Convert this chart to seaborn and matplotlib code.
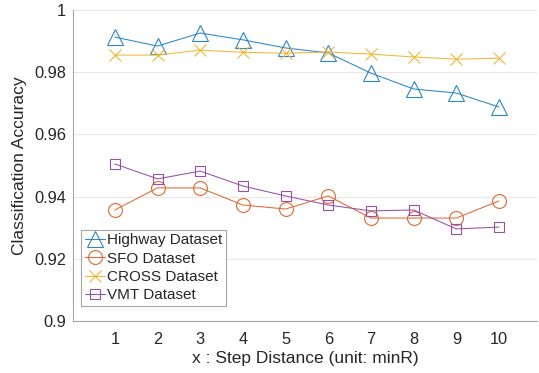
import matplotlib
matplotlib.use("Agg")
import matplotlib.pyplot as plt
import seaborn as sns
import pandas as pd

steps = [1, 2, 3, 4, 5, 6, 7, 8, 9, 10]
highway = [0.9913, 0.9884, 0.9926, 0.9904, 0.9878, 0.9862, 0.9797, 0.9746, 0.9733, 0.9688]
sfo = [0.9357, 0.9428, 0.9428, 0.9373, 0.9360, 0.9402, 0.9331, 0.9331, 0.9331, 0.9386]
cross = [0.9855, 0.9855, 0.9871, 0.9864, 0.9861, 0.9865, 0.9858, 0.9849, 0.9842, 0.9845]
vmt = [0.9505, 0.9457, 0.9482, 0.9434, 0.9402, 0.9373, 0.9354, 0.9357, 0.9296, 0.9302]
names = ["Highway Dataset", "SFO Dataset", "CROSS Dataset", "VMT Dataset"]
yticks = [0.9, 0.92, 0.94, 0.96, 0.98, 1.0]
ytick_labels = ["0.9", "0.92", "0.94", "0.96", "0.98", "1"]

sns.set_style("white")
plt.rcParams['font.family'] = ['Liberation Sans', 'DejaVu Sans']

fig = plt.figure(figsize=(5.39, 3.73), dpi=100)
ax = fig.add_axes([73/539, 1-321/373, (537-73)/539, (321-10)/373])

colors = ["#2a86c8", "#de6a33", "#eeb838", "#9651a6"]
markers = ["^", "o", "x", "s"]
msizes = [11.5, 10, 8, 7.5]
series = [highway, sfo, cross, vmt]

for name, vals, c, m, ms in zip(names, series, colors, markers, msizes):
    df = pd.DataFrame({"step": steps, "acc": vals})
    sns.lineplot(data=df, x="step", y="acc", ax=ax, color=c, marker=m,
                 markersize=ms, markerfacecolor="none", markeredgecolor=c,
                 markeredgewidth=0.8, linewidth=0.75, label=name)

ax.set_xlim(0.02, 10.89)
ax.set_ylim(0.9, 1.0)
ax.set_xticks(steps)
ax.set_xticklabels([str(s) for s in steps], fontsize=11.8, color="#262626")
ax.set_yticks(yticks)
ax.set_yticklabels(ytick_labels, fontsize=11.8, color="#262626")
ax.yaxis.grid(True, color="#e8e8e8", linewidth=0.8)
ax.xaxis.grid(False)
for s in ["top", "right"]:
    ax.spines[s].set_visible(False)
for s in ["left", "bottom"]:
    ax.spines[s].set_color("#a6a6a6")
    ax.spines[s].set_linewidth(0.8)
ax.tick_params(axis="both", direction="in", length=3, color="#a6a6a6", width=0.8)
ax.tick_params(axis="x", pad=8)
ax.tick_params(axis="y", pad=5)
ax.set_xlabel("x : Step Distance (unit: minR)", fontsize=12.5, color="#262626", labelpad=3)
ax.set_ylabel("Classification Accuracy", fontsize=12.5, color="#262626", labelpad=5)

leg = ax.legend(loc="lower left", bbox_to_anchor=(0.017, 0.048), fontsize=11,
                frameon=True, fancybox=False, edgecolor="#a6a6a6", framealpha=1,
                borderpad=0.25, labelspacing=0.28, handlelength=1.3, handletextpad=0.15,
                borderaxespad=0)
leg.get_frame().set_linewidth(0.8)
for t in leg.get_texts():
    t.set_color("#262626")

fig.savefig("out.png", dpi=100)
